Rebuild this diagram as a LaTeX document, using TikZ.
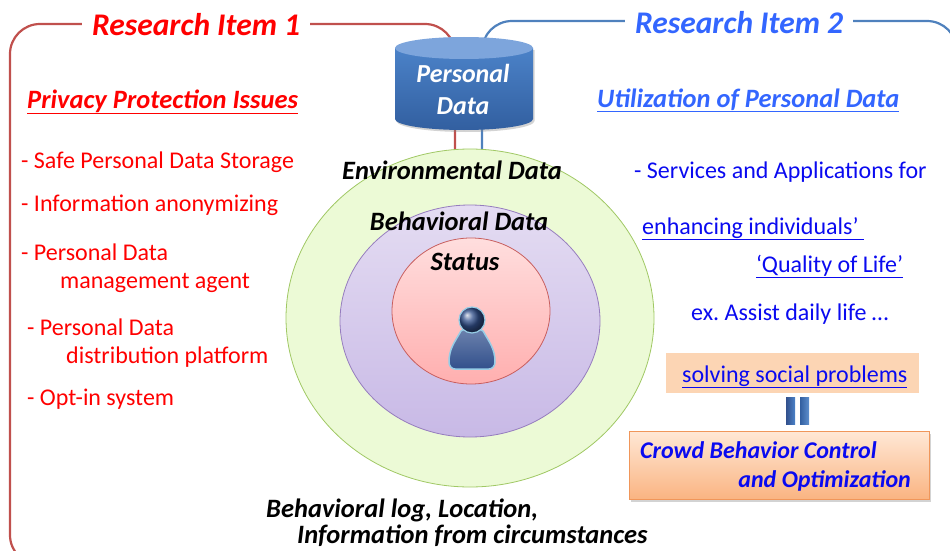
\documentclass[tikz,border=0pt]{standalone}
\usepackage{fontspec}
\setmainfont{Carlito}
\usetikzlibrary{shapes.geometric,shadows}

\definecolor{itemred}{RGB}{192,80,77}
\definecolor{itemblue}{RGB}{79,129,189}
\definecolor{titleblue}{RGB}{51,102,255}
\definecolor{textblue}{RGB}{10,10,240}
\definecolor{pdlight}{RGB}{75,130,200}
\definecolor{pddark}{RGB}{50,95,160}
\definecolor{pdtop}{RGB}{125,165,220}
\definecolor{envfill}{RGB}{236,250,214}
\definecolor{envline}{RGB}{160,200,100}
\definecolor{behtop}{RGB}{228,220,242}
\definecolor{behbot}{RGB}{200,185,230}
\definecolor{behline}{RGB}{150,125,190}
\definecolor{sttop}{RGB}{255,222,222}
\definecolor{stbot}{RGB}{255,175,175}
\definecolor{stline}{RGB}{200,95,95}
\definecolor{salmon}{RGB}{252,213,180}
\definecolor{crowdtop}{RGB}{255,232,214}
\definecolor{crowdbot}{RGB}{250,180,130}
\definecolor{crowdline}{RGB}{240,150,90}
\definecolor{headblue}{RGB}{50,80,140}
\definecolor{rimblue}{RGB}{150,205,230}

\begin{document}
\frenchspacing
\begin{tikzpicture}[x=1pt,y=-1pt,
    bracket/.style={line width=2.2pt, rounded corners=30pt},
    title/.style={font=\fontsize{31.5}{34}\selectfont\bfseries\itshape, fill=white, inner xsep=10pt, inner ysep=0pt, anchor=base west},
    heading/.style={font=\fontsize{26.5}{30}\selectfont\bfseries\itshape, inner sep=0pt, anchor=base west},
    item/.style={font=\fontsize{24}{28}\selectfont, inner sep=0pt, anchor=base west},
    label/.style={font=\fontsize{26.5}{30}\selectfont\bfseries\itshape, inner sep=0pt, anchor=base},
    ring/.style={ellipse, draw, line width=0.8pt},
  ]
  \useasboundingbox (0,0) rectangle (950,551);
  \clip (0,0) rectangle (950,551);

  % frames of the two research items
  \coordinate (redfoot) at (455,180);
  \coordinate (bluefoot) at (482,180);
  \draw[bracket, itemred] (redfoot) -- (455,24) -- (10,24) -- (10,565) -- (80,565);
  \draw[bracket, itemblue] (bluefoot) -- (482,21) -- (957,21) -- (957,565);
  \node[title, text=red] (item1) at (82,36) {Research Item 1};
  \node[title, text=titleblue] (item2) at (625,34) {Research Item 2};

  % nested data rings
  \node[ring, draw=envline, fill=envfill, minimum width=368, minimum height=338] (env) at (470,318) {};
  \node[ring, draw=behline, top color=behtop, bottom color=behbot, minimum width=260, minimum height=232] (beh) at (470,321) {};
  \node[ring, draw=stline, top color=sttop, bottom color=stbot, minimum width=158, minimum height=146] (stat) at (471,311) {};

  \node[label] (envlbl) at (452,179) {Environmental Data};
  \node[label] (behlbl) at (459,230) {Behavioral Data};
  \node[label] (statlbl) at (465,270) {Status};

  % person in the middle
  \draw[rimblue, line width=1.5pt, top color=headblue!70, bottom color=headblue]
    (461,331) to[out=240,in=90] (449,362) to[out=270,in=180] (455,369)
    -- (489,369) to[out=0,in=270] (495,362) to[out=90,in=300] (483,331)
    to[out=150,in=30] cycle;
  \shade[ball color=headblue] (472,320) circle (13);
  \draw[rimblue, line width=1.2pt] (472,320) circle (13);

  % personal data store
  \shade[top color=pdlight, bottom color=pddark, drop shadow={shadow xshift=1.5pt, shadow yshift=-2pt, opacity=.35}]
    (395,48) -- (395,119) arc[start angle=180, end angle=0, x radius=69, y radius=11] -- (533,48) -- cycle;
  \fill[pdtop] (464,48) ellipse[x radius=69, y radius=11];
  \node[label, text=white, align=center, anchor=center, font=\fontsize{26}{32}\selectfont\bfseries\itshape] (store) at (463,89) {Personal\\Data};

  % privacy side
  \node[heading, text=red] (privacy) at (27,108) {\underline{Privacy Protection Issues}};
  \node[item, text=red] (storage) at (21,168) {- Safe Personal Data Storage};
  \node[item, text=red] (anon) at (21,211) {- Information anonymizing};
  \node[item, text=red] (agent) at (21,260) {- Personal Data};
  \node[item, text=red] (agent2) at (60,288) {management agent};
  \node[item, text=red] (distr) at (27,335) {- Personal Data};
  \node[item, text=red] (distr2) at (66,363) {distribution platform};
  \node[item, text=red] (optin) at (27,405) {- Opt-in system};

  % utilization side
  \node[heading, text=titleblue] (util) at (597,107) {\underline{Utilization of Personal Data}};
  \node[item, text=textblue] (serv) at (634,178) {- Services and Applications for};
  \node[item, text=textblue] (enh) at (642,234) {\underline{enhancing individuals’\ }};
  \node[item, text=textblue] (qol) at (756,272) {\underline{‘Quality of Life’}};
  \node[item, text=textblue] (assist) at (691,320) {ex. Assist daily life …};

  \node[fill=salmon, minimum width=253, minimum height=40, inner sep=0pt] (social) at (792.5,373) {};
  \node[item, text=textblue] (sociallbl) at (682,382) {\underline{solving social problems}};

  \node[draw=crowdline, line width=0.8pt, top color=crowdtop, bottom color=crowdbot,
        minimum width=300, minimum height=68, inner sep=0pt,
        drop shadow={shadow xshift=2pt, shadow yshift=-2.5pt, opacity=.35}] (crowd) at (779,465) {};
  \node[heading, text=textblue, font=\fontsize{24}{28}\selectfont\bfseries\itshape] (crowd1) at (640,458) {Crowd Behavior Control};
  \node[heading, text=textblue, font=\fontsize{24}{28}\selectfont\bfseries\itshape, anchor=base east] (crowd2) at (911,487) {and Optimization};

  % equals sign between the two boxes
  \shade[left color=headblue, right color=pdlight] (786,397) rectangle (795,424);
  \shade[left color=pddark, right color=pdlight!90] (800,397) rectangle (809,424);

  % what the rings are built from
  \node[label, anchor=base west] (logs) at (266,517) {Behavioral log, Location,};
  \node[label, anchor=base west] (circ) at (297,543) {Information from circumstances};
\end{tikzpicture}
\end{document}
